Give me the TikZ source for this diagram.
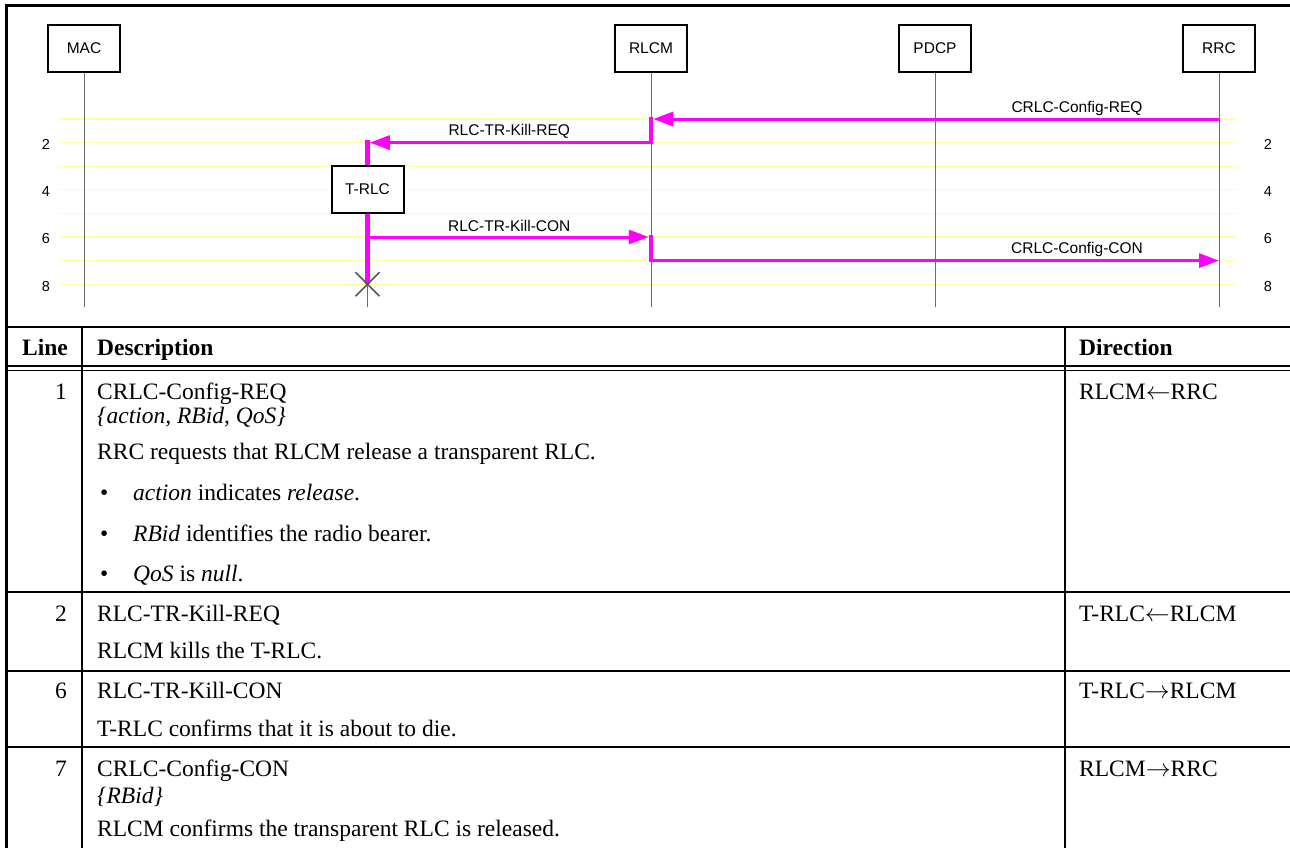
\documentclass[tikz,border=0pt]{standalone}
\usepackage{fontspec}
\setmainfont{Liberation Serif}
\setsansfont{Liberation Sans}
\usetikzlibrary{positioning, arrows.meta, calc}
\definecolor{msg}{RGB}{255,0,255}
\definecolor{gridy}{RGB}{255,255,165}
\definecolor{life}{RGB}{110,110,110}
\definecolor{kill}{RGB}{85,85,85}

\begin{document}
\begin{tikzpicture}[
    x=1pt, y=-1pt,
    >={Triangle[length=20pt, width=14pt]},
    head/.style={draw, line width=2pt, fill=white, minimum width=72pt,
                 minimum height=47pt, inner sep=0pt,
                 font=\sffamily\fontsize{15.5}{18}\selectfont},
    msgline/.style={draw=msg, line width=3pt},
    actbar/.style={draw=msg, line width=4.5pt},
    lifeline/.style={draw=life, line width=0.9pt},
    gridline/.style={draw=gridy, line width=1.1pt},
    msglbl/.style={font=\sffamily\fontsize{15.5}{18}\selectfont, inner sep=0pt},
    numlbl/.style={font=\sffamily\fontsize{14.5}{16}\selectfont, inner sep=0pt},
    cell/.style={anchor=base west, inner sep=0pt,
                 font=\fontsize{23.5}{27}\selectfont},
    hcell/.style={cell, font=\bfseries\fontsize{23.5}{27}\selectfont},
    numcell/.style={cell, anchor=base east},
    frame/.style={line width=3pt},
    rule/.style={line width=2.5pt},
    thinrule/.style={line width=1.3pt},
]
\useasboundingbox (0,0) rectangle (1290,847);
\clip (0,0) rectangle (1290,847);

% ══════════════════════════════════════
%  SEQUENCE CHART
% ══════════════════════════════════════

% Step rows 1..8
\foreach \k in {1,...,8} {
    \coordinate (row\k) at (0, {119+23.6*(\k-1)});
    \draw[gridline] (60, {119+23.6*(\k-1)}) -- (1237, {119+23.6*(\k-1)});
}
\foreach \k in {2,4,6,8} {
    \node[numlbl] at (46, {121+23.6*(\k-1)}) {\k};
    \node[numlbl] at (1268, {121+23.6*(\k-1)}) {\k};
}

% Lifeline heads
\node[head] (mac) at (84,48.5) {MAC};
\node[head, right=493pt of mac] (rlcm) {RLCM};
\node[head, right=210pt of rlcm] (pdcp) {PDCP};
\node[head, right=210pt of pdcp] (rrc) {RRC};

\coordinate (foot) at (0,307);
\foreach \n in {mac, rlcm, pdcp, rrc}
    \draw[lifeline] (\n.south) -- (\n |- foot);

% Created instance
\coordinate (trlcx) at ($(mac)!0.5!(rlcm)$);
\coordinate (trlcy) at (0,189.5);
\node[head] (trlc) at (trlcx |- trlcy) {T-RLC};
\draw[lifeline] (trlc.south) -- (trlc |- foot);

% Activations
\draw[actbar] ([yshift=2pt]rlcm |- row1) -- ([yshift=-1.5pt]rlcm |- row2);
\draw[actbar] ([yshift=2pt]rlcm |- row6) -- ([yshift=-1.5pt]rlcm |- row7);
\draw[actbar] ([yshift=2.5pt]trlc |- row2) -- (trlc.north);
\draw[actbar] (trlc.south) -- (trlc |- row8);

% Messages
\draw[msgline, ->] (rrc |- row1) -- ([xshift=2.25pt]rlcm |- row1);
\node[msglbl] at ([yshift=11pt]$(pdcp |- row1)!0.5!(rrc |- row1)$)
    {CRLC-Config-REQ};

\draw[msgline, ->] (rlcm |- row2) -- ([xshift=2.25pt]trlc |- row2);
\node[msglbl] at ([yshift=11pt]$(trlc |- row2)!0.5!(rlcm |- row2)$)
    {RLC-TR-Kill-REQ};

\draw[msgline, ->] (trlc |- row6) -- ([xshift=-2.25pt]rlcm |- row6);
\node[msglbl] at ([yshift=11pt]$(trlc |- row6)!0.5!(rlcm |- row6)$)
    {RLC-TR-Kill-CON};

\draw[msgline, ->] (rlcm |- row7) -- (rrc |- row7);
\node[msglbl] at ([yshift=11pt]$(pdcp |- row7)!0.5!(rrc |- row7)$)
    {CRLC-Config-CON};

% Termination
\coordinate (dead) at (trlc |- row8);
\draw[kill, line width=1.6pt]
    ([shift={(-12pt,12pt)}]dead) -- ([shift={(12pt,-12pt)}]dead)
    ([shift={(-12pt,-12pt)}]dead) -- ([shift={(12pt,12pt)}]dead);

% ══════════════════════════════════════
%  TABLE
% ══════════════════════════════════════

\draw[frame] (6,850) -- (6,5) -- (1295,5);
\draw[rule] (6,327) -- (1295,327);
\draw[line width=1.5pt] (6,366) -- (1295,366);
\draw[line width=1.5pt] (6,370.5) -- (1295,370.5);
\draw[rule] (82,327) -- (82,850);
\draw[rule] (1065,327) -- (1065,850);
\foreach \y in {592,671,747}
    \draw[thinrule] (6,\y) -- (1295,\y);

% Header
\node[hcell] at (22,355) {Line};
\node[hcell] at (97,355) {Description};
\node[hcell] at (1079,355) {Direction};

% Line 1
\node[numcell] at (67,399) {1};
\node[cell] at (97,399) {CRLC-Config-REQ};
\node[cell] at (97,423) {\itshape\{action, RBid, QoS\}};
\node[cell] at (97,459) {RRC requests that RLCM release a transparent RLC.};
\node[cell] at (100,500) {\textbullet};
\node[cell] at (133,500) {\textit{action} indicates \textit{release}.};
\node[cell] at (100,541) {\textbullet};
\node[cell] at (133,541) {\textit{RBid} identifies the radio bearer.};
\node[cell] at (100,581) {\textbullet};
\node[cell] at (133,581) {\textit{QoS} is \textit{null}.};
\node[cell] at (1079,399) {RLCM$\leftarrow$RRC};

% Line 2
\node[numcell] at (67,621) {2};
\node[cell] at (97,621) {RLC-TR-Kill-REQ};
\node[cell] at (97,658) {RLCM kills the T-RLC.};
\node[cell] at (1079,621) {T-RLC$\leftarrow$RLCM};

% Line 6
\node[numcell] at (67,698) {6};
\node[cell] at (97,698) {RLC-TR-Kill-CON};
\node[cell] at (97,736) {T-RLC confirms that it is about to die.};
\node[cell] at (1079,698) {T-RLC$\rightarrow$RLCM};

% Line 7
\node[numcell] at (67,776) {7};
\node[cell] at (97,776) {CRLC-Config-CON};
\node[cell] at (97,803) {\itshape\{RBid\}};
\node[cell] at (97,836) {RLCM confirms the transparent RLC is released.};
\node[cell] at (1079,776) {RLCM$\rightarrow$RRC};

\end{tikzpicture}
\end{document}
